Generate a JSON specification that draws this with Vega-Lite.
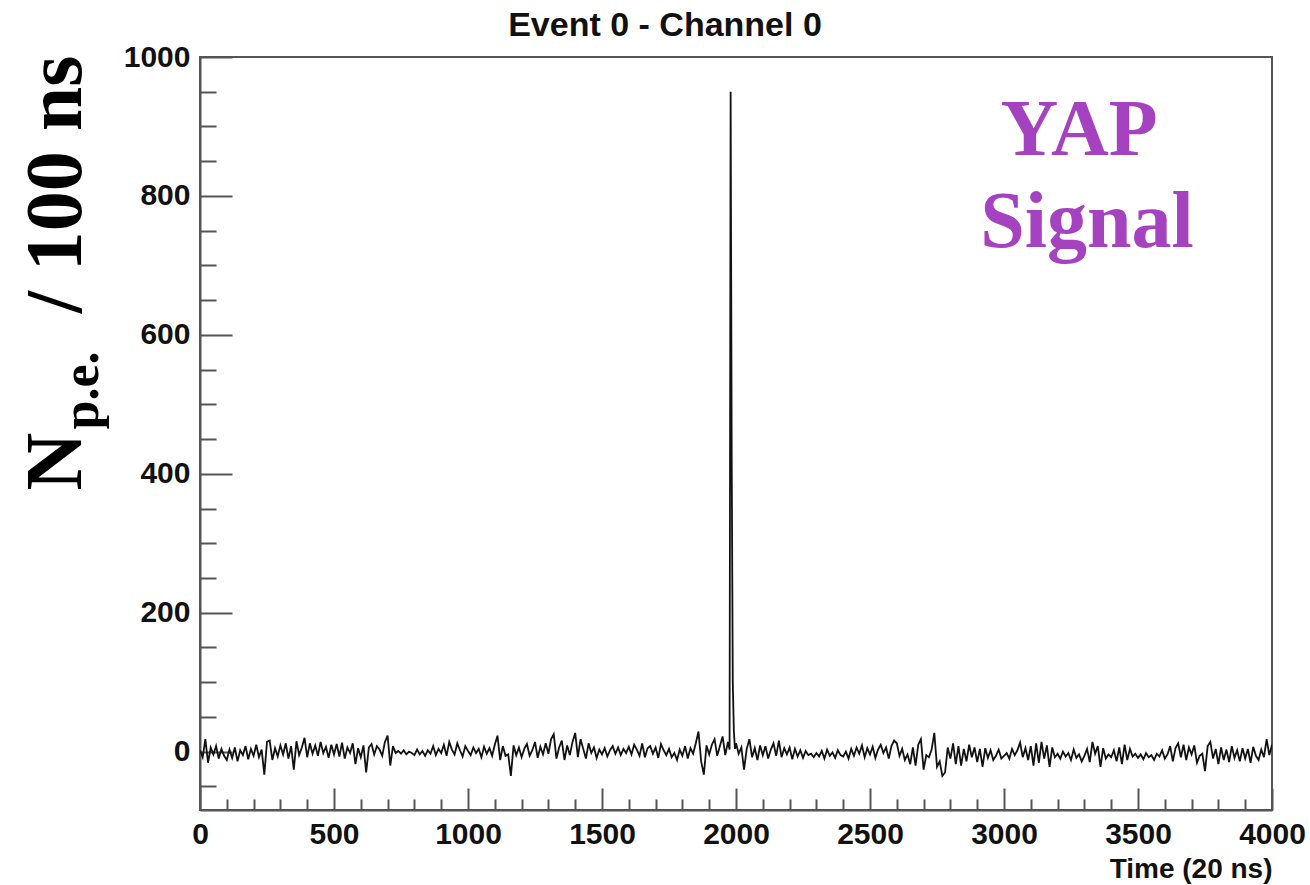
{
  "$schema": "https://vega.github.io/schema/vega-lite/v6.json",
  "autosize": "none",
  "width": 1072,
  "height": 753,
  "padding": {"left": 200, "top": 57, "right": 38, "bottom": 75},
  "background": "white",
  "config": {
    "view": {"stroke": "#555555", "strokeWidth": 2},
    "axis": {"grid": false}
  },
  "title": {
    "text": "Event 0 - Channel 0",
    "font": "Liberation Sans",
    "fontSize": 34,
    "fontWeight": "bold",
    "color": "#111111",
    "anchor": "middle",
    "frame": "group",
    "dx": -71,
    "dy": 48,
    "baseline": "alphabetic",
    "offset": 20
  },
  "datasets": {
    "wave": [
      {"t":0,"v":2},{"t":10,"v":-8},{"t":20,"v":18},{"t":30,"v":-16},{"t":40,"v":6},{"t":50,"v":-4},{"t":60,"v":8},{"t":70,"v":-10},{"t":80,"v":4},{"t":90,"v":-6},
      {"t":100,"v":-12},{"t":110,"v":3},{"t":120,"v":-9},{"t":130,"v":6},{"t":140,"v":-14},{"t":150,"v":2},{"t":160,"v":-5},{"t":170,"v":8},{"t":180,"v":-11},{"t":190,"v":4},
      {"t":200,"v":-6},{"t":210,"v":10},{"t":220,"v":-8},{"t":230,"v":3},{"t":240,"v":-33},{"t":250,"v":14},{"t":260,"v":16},{"t":270,"v":-12},{"t":280,"v":5},{"t":290,"v":-7},
      {"t":300,"v":9},{"t":310,"v":-4},{"t":320,"v":12},{"t":330,"v":-10},{"t":340,"v":8},{"t":350,"v":-26},{"t":360,"v":15},{"t":370,"v":-5},{"t":380,"v":6},{"t":390,"v":20},
      {"t":400,"v":-8},{"t":410,"v":12},{"t":420,"v":-3},{"t":430,"v":9},{"t":440,"v":-6},{"t":450,"v":14},{"t":460,"v":-2},{"t":470,"v":7},{"t":480,"v":-9},{"t":490,"v":10},
      {"t":500,"v":-4},{"t":510,"v":11},{"t":520,"v":-7},{"t":530,"v":13},{"t":540,"v":-10},{"t":550,"v":6},{"t":560,"v":-2},{"t":570,"v":12},{"t":580,"v":-18},{"t":590,"v":5},
      {"t":600,"v":-8},{"t":610,"v":9},{"t":620,"v":-30},{"t":630,"v":6},{"t":640,"v":11},{"t":650,"v":-4},{"t":660,"v":8},{"t":670,"v":3},{"t":680,"v":-6},{"t":690,"v":14},
      {"t":700,"v":23},{"t":710,"v":-20},{"t":720,"v":8},{"t":730,"v":-2},{"t":740,"v":1},{"t":750,"v":-3},{"t":760,"v":2},{"t":770,"v":-4},{"t":780,"v":0},{"t":790,"v":-2},
      {"t":800,"v":-5},{"t":810,"v":3},{"t":820,"v":-4},{"t":830,"v":1},{"t":840,"v":-6},{"t":850,"v":2},{"t":860,"v":-3},{"t":870,"v":8},{"t":880,"v":-5},{"t":890,"v":4},
      {"t":900,"v":-2},{"t":910,"v":10},{"t":920,"v":-6},{"t":930,"v":14},{"t":940,"v":3},{"t":950,"v":-4},{"t":960,"v":12},{"t":970,"v":2},{"t":980,"v":-7},{"t":990,"v":8},
      {"t":1000,"v":1},{"t":1010,"v":-5},{"t":1020,"v":6},{"t":1030,"v":-2},{"t":1040,"v":4},{"t":1050,"v":-8},{"t":1060,"v":7},{"t":1070,"v":-3},{"t":1080,"v":5},{"t":1090,"v":-6},
      {"t":1100,"v":10},{"t":1110,"v":23},{"t":1120,"v":-12},{"t":1130,"v":8},{"t":1140,"v":-6},{"t":1150,"v":-4},{"t":1160,"v":-35},{"t":1170,"v":9},{"t":1180,"v":-5},{"t":1190,"v":6},
      {"t":1200,"v":-8},{"t":1210,"v":4},{"t":1220,"v":11},{"t":1230,"v":-6},{"t":1240,"v":2},{"t":1250,"v":14},{"t":1260,"v":-9},{"t":1270,"v":7},{"t":1280,"v":-4},{"t":1290,"v":12},
      {"t":1300,"v":-3},{"t":1310,"v":18},{"t":1320,"v":25},{"t":1330,"v":-10},{"t":1340,"v":6},{"t":1350,"v":16},{"t":1360,"v":-12},{"t":1370,"v":9},{"t":1380,"v":-5},{"t":1390,"v":14},
      {"t":1400,"v":27},{"t":1410,"v":-8},{"t":1420,"v":18},{"t":1430,"v":4},{"t":1440,"v":-10},{"t":1450,"v":12},{"t":1460,"v":-2},{"t":1470,"v":6},{"t":1480,"v":-9},{"t":1490,"v":3},
      {"t":1500,"v":-4},{"t":1510,"v":5},{"t":1520,"v":-7},{"t":1530,"v":2},{"t":1540,"v":8},{"t":1550,"v":-3},{"t":1560,"v":6},{"t":1570,"v":-5},{"t":1580,"v":4},{"t":1590,"v":-2},
      {"t":1600,"v":7},{"t":1610,"v":-4},{"t":1620,"v":10},{"t":1630,"v":3},{"t":1640,"v":-6},{"t":1650,"v":12},{"t":1660,"v":-8},{"t":1670,"v":5},{"t":1680,"v":8},{"t":1690,"v":-3},
      {"t":1700,"v":6},{"t":1710,"v":-9},{"t":1720,"v":11},{"t":1730,"v":2},{"t":1740,"v":-5},{"t":1750,"v":4},{"t":1760,"v":-8},{"t":1770,"v":-2},{"t":1780,"v":-12},{"t":1790,"v":3},
      {"t":1800,"v":-6},{"t":1810,"v":8},{"t":1820,"v":-10},{"t":1830,"v":5},{"t":1840,"v":-3},{"t":1850,"v":12},{"t":1860,"v":29},{"t":1870,"v":-14},{"t":1880,"v":-33},{"t":1890,"v":9},
      {"t":1900,"v":-4},{"t":1910,"v":10},{"t":1920,"v":18},{"t":1930,"v":-6},{"t":1940,"v":8},{"t":1950,"v":22},{"t":1960,"v":-5},{"t":1970,"v":14},{"t":1976,"v":3},
      {"t":1980,"v":950},{"t":1984,"v":420},{"t":1988,"v":100},{"t":1992,"v":30},{"t":1996,"v":4},
      {"t":2000,"v":12},{"t":2010,"v":-3},{"t":2020,"v":6},{"t":2030,"v":-26},{"t":2040,"v":4},{"t":2050,"v":18},{"t":2060,"v":-8},{"t":2070,"v":5},{"t":2080,"v":-12},{"t":2090,"v":9},
      {"t":2100,"v":-5},{"t":2110,"v":8},{"t":2120,"v":-10},{"t":2130,"v":3},{"t":2140,"v":12},{"t":2150,"v":-6},{"t":2160,"v":16},{"t":2170,"v":-8},{"t":2180,"v":5},{"t":2190,"v":-4},
      {"t":2200,"v":6},{"t":2210,"v":-11},{"t":2220,"v":4},{"t":2230,"v":-7},{"t":2240,"v":2},{"t":2250,"v":-9},{"t":2260,"v":1},{"t":2270,"v":-5},{"t":2280,"v":-3},{"t":2290,"v":-8},
      {"t":2300,"v":-2},{"t":2310,"v":-7},{"t":2320,"v":1},{"t":2330,"v":-10},{"t":2340,"v":3},{"t":2350,"v":-6},{"t":2360,"v":-1},{"t":2370,"v":-9},{"t":2380,"v":2},{"t":2390,"v":-5},
      {"t":2400,"v":-7},{"t":2410,"v":0},{"t":2420,"v":-10},{"t":2430,"v":4},{"t":2440,"v":-6},{"t":2450,"v":6},{"t":2460,"v":-3},{"t":2470,"v":9},{"t":2480,"v":-8},{"t":2490,"v":5},
      {"t":2500,"v":-4},{"t":2510,"v":7},{"t":2520,"v":-9},{"t":2530,"v":3},{"t":2540,"v":10},{"t":2550,"v":-2},{"t":2560,"v":6},{"t":2570,"v":-10},{"t":2580,"v":8},{"t":2590,"v":16},
      {"t":2600,"v":12},{"t":2610,"v":-6},{"t":2620,"v":4},{"t":2630,"v":-12},{"t":2640,"v":-4},{"t":2650,"v":-18},{"t":2660,"v":6},{"t":2670,"v":-20},{"t":2680,"v":10},{"t":2690,"v":18},
      {"t":2700,"v":-26},{"t":2710,"v":-5},{"t":2720,"v":-8},{"t":2730,"v":3},{"t":2740,"v":27},{"t":2750,"v":-22},{"t":2760,"v":-14},{"t":2770,"v":-35},{"t":2780,"v":-30},{"t":2790,"v":6},
      {"t":2800,"v":-10},{"t":2810,"v":12},{"t":2820,"v":-18},{"t":2830,"v":8},{"t":2840,"v":-20},{"t":2850,"v":4},{"t":2860,"v":-14},{"t":2870,"v":10},{"t":2880,"v":-8},{"t":2890,"v":6},
      {"t":2900,"v":-15},{"t":2910,"v":4},{"t":2920,"v":-22},{"t":2930,"v":5},{"t":2940,"v":-9},{"t":2950,"v":2},{"t":2960,"v":-12},{"t":2970,"v":-6},{"t":2980,"v":3},{"t":2990,"v":-10},
      {"t":3000,"v":-6},{"t":3010,"v":-2},{"t":3020,"v":-10},{"t":3030,"v":4},{"t":3040,"v":-5},{"t":3050,"v":2},{"t":3060,"v":13},{"t":3070,"v":-8},{"t":3080,"v":5},{"t":3090,"v":-12},
      {"t":3100,"v":8},{"t":3110,"v":-20},{"t":3120,"v":12},{"t":3130,"v":-16},{"t":3140,"v":14},{"t":3150,"v":-10},{"t":3160,"v":9},{"t":3170,"v":-22},{"t":3180,"v":6},{"t":3190,"v":-8},
      {"t":3200,"v":-3},{"t":3210,"v":-10},{"t":3220,"v":0},{"t":3230,"v":-7},{"t":3240,"v":-2},{"t":3250,"v":-12},{"t":3260,"v":3},{"t":3270,"v":-9},{"t":3280,"v":-4},{"t":3290,"v":-14},
      {"t":3300,"v":-6},{"t":3310,"v":4},{"t":3320,"v":-15},{"t":3330,"v":14},{"t":3340,"v":-3},{"t":3350,"v":8},{"t":3360,"v":-22},{"t":3370,"v":5},{"t":3380,"v":-10},{"t":3390,"v":-4},
      {"t":3400,"v":-8},{"t":3410,"v":2},{"t":3420,"v":-14},{"t":3430,"v":6},{"t":3440,"v":-18},{"t":3450,"v":10},{"t":3460,"v":-12},{"t":3470,"v":4},{"t":3480,"v":-7},{"t":3490,"v":-3},
      {"t":3500,"v":-9},{"t":3510,"v":-4},{"t":3520,"v":-11},{"t":3530,"v":-2},{"t":3540,"v":-8},{"t":3550,"v":-5},{"t":3560,"v":-12},{"t":3570,"v":-3},{"t":3580,"v":-7},{"t":3590,"v":2},
      {"t":3600,"v":-10},{"t":3610,"v":-4},{"t":3620,"v":8},{"t":3630,"v":-14},{"t":3640,"v":5},{"t":3650,"v":12},{"t":3660,"v":-8},{"t":3670,"v":10},{"t":3680,"v":-12},{"t":3690,"v":6},
      {"t":3700,"v":-4},{"t":3710,"v":9},{"t":3720,"v":-16},{"t":3730,"v":-6},{"t":3740,"v":-3},{"t":3750,"v":-28},{"t":3760,"v":8},{"t":3770,"v":14},{"t":3780,"v":-10},{"t":3790,"v":4},
      {"t":3800,"v":-18},{"t":3810,"v":6},{"t":3820,"v":-12},{"t":3830,"v":3},{"t":3840,"v":-15},{"t":3850,"v":8},{"t":3860,"v":-9},{"t":3870,"v":2},{"t":3880,"v":-14},{"t":3890,"v":5},
      {"t":3900,"v":-10},{"t":3910,"v":4},{"t":3920,"v":-16},{"t":3930,"v":7},{"t":3940,"v":-6},{"t":3950,"v":-12},{"t":3960,"v":3},{"t":3970,"v":-8},{"t":3980,"v":18},{"t":3990,"v":-5},
      {"t":4000,"v":10}
    ],
    "notes": [
      {"t": 3280, "v": 859, "text": "YAP"},
      {"t": 3310, "v": 727, "text": "Signal"}
    ]
  },
  "resolve": {"axis": {"x": "independent", "y": "independent"}},
  "layer": [
    {
      "data": {"name": "wave"},
      "mark": {"type": "line", "color": "#111111", "strokeWidth": 1.8, "clip": true},
      "encoding": {
        "x": {
          "field": "t", "type": "quantitative",
          "scale": {"domain": [0, 4000], "nice": false, "zero": false},
          "axis": {
            "orient": "bottom",
            "values": [0, 500, 1000, 1500, 2000, 2500, 3000, 3500, 4000],
            "format": "d",
            "labelFont": "Liberation Sans",
            "labelFontSize": 30,
            "labelFontWeight": "bold",
            "labelColor": "#111111",
            "labelPadding": 31,
            "labelFlush": false,
            "labelOverlap": false,
            "domainColor": "#555555",
            "domainWidth": 2,
            "tickColor": "#555555",
            "tickWidth": 2,
            "tickSize": -22,
            "title": "Time (20 ns)",
            "titleFont": "Liberation Sans",
            "titleFontSize": 28,
            "titleFontWeight": "bold",
            "titleColor": "#111111",
            "titleAnchor": "end",
            "titleAlign": "right",
            "titleBaseline": "alphabetic",
            "titleX": 1072,
            "titleY": 67
          }
        },
        "y": {
          "field": "v", "type": "quantitative",
          "scale": {"domain": [-84, 1000], "nice": false, "zero": false},
          "axis": {
            "orient": "left",
            "values": [0, 200, 400, 600, 800, 1000],
            "format": "d",
            "labelFont": "Liberation Sans",
            "labelFontSize": 30,
            "labelFontWeight": "bold",
            "labelColor": "#111111",
            "labelPadding": 42,
            "labelFlush": false,
            "labelOverlap": false,
            "domainColor": "#555555",
            "domainWidth": 2,
            "tickColor": "#555555",
            "tickWidth": 2,
            "tickSize": -32,
            "title": "N",
            "titleFont": "Liberation Serif",
            "titleFontSize": 80,
            "titleFontWeight": "bold",
            "titleColor": "#000000",
            "titleAngle": -90,
            "titleAlign": "left",
            "titleBaseline": "alphabetic",
            "titleX": -120,
            "titleY": 433
          }
        }
      }
    },
    {
      "data": {"name": "wave"},
      "mark": {"type": "line", "strokeOpacity": 0, "clip": true},
      "encoding": {
        "x": {
          "field": "t", "type": "quantitative",
          "axis": {
            "orient": "bottom",
            "values": [100,200,300,400,600,700,800,900,1100,1200,1300,1400,1600,1700,1800,1900,2100,2200,2300,2400,2600,2700,2800,2900,3100,3200,3300,3400,3600,3700,3800,3900],
            "labels": false,
            "domain": false,
            "tickColor": "#555555",
            "tickWidth": 2,
            "tickSize": -11,
            "title": "/ 100 ns",
            "titleFont": "Liberation Serif",
            "titleFontSize": 80,
            "titleFontWeight": "bold",
            "titleColor": "#000000",
            "titleAngle": -90,
            "titleAlign": "right",
            "titleBaseline": "alphabetic",
            "titleX": -120,
            "titleY": -755
          }
        },
        "y": {
          "field": "v", "type": "quantitative",
          "axis": {
            "orient": "left",
            "values": [-50,50,100,150,250,300,350,450,500,550,650,700,750,850,900,950],
            "labels": false,
            "domain": false,
            "tickColor": "#555555",
            "tickWidth": 2,
            "tickSize": -16,
            "title": "p.e.",
            "titleFont": "Liberation Serif",
            "titleFontSize": 52,
            "titleFontWeight": "bold",
            "titleColor": "#000000",
            "titleAngle": -90,
            "titleAlign": "left",
            "titleBaseline": "alphabetic",
            "titleX": -103,
            "titleY": 372
          }
        }
      }
    },
    {
      "data": {"name": "notes"},
      "mark": {"type": "text", "font": "Liberation Serif", "fontSize": 80, "fontWeight": "bold", "color": "#A542C0", "align": "center", "baseline": "alphabetic"},
      "encoding": {
        "x": {"field": "t", "type": "quantitative", "axis": null},
        "y": {"field": "v", "type": "quantitative", "axis": null},
        "text": {"field": "text", "type": "nominal"}
      }
    }
  ]
}
